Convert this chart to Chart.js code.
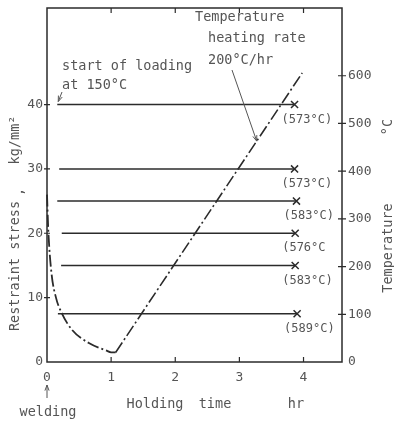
<!DOCTYPE html>
<html>
<head>
<meta charset="utf-8">
<script src="https://cdn.jsdelivr.net/npm/chart.js@4.4.0/dist/chart.umd.min.js"></script>
<style>
  html, body { margin: 0; padding: 0; background: #fff; }
  #chart { display: block; }
</style>
</head>
<body>
<canvas id="chart" width="394" height="421"></canvas>
<script>
// stress after welding, relaxing while cooling (left axis, kg/mm2)
const coolHours = [0, 0.02, 0.07, 0.14, 0.23, 0.39, 0.66, 0.92, 1.0, 1.07];
const coolStress = [26, 20.5, 13.8, 10, 7.6, 5, 2.9, 1.8, 1.5, 1.5];

// reheating at 200 C/hr (right axis, C)
const heatHours = [1.07, 3.98];
const heatTemps = [20, 606];

// constant load tests, broken at the given temperature
const loadStress = [40, 30, 25, 20, 15, 7.5];
const loadStart = [0.16, 0.19, 0.16, 0.23, 0.22, 0.17];
const loadEnd = [3.86, 3.86, 3.89, 3.87, 3.87, 3.9];
const breakTemps = ["(573°C)", "(573°C)", "(583°C)", "(576°C", "(583°C)", "(589°C)"];

const hourTicks = [0, 1, 2, 3, 4];
const stressTicks = [0, 10, 20, 30, 40];
const tempTicks = [0, 100, 200, 300, 400, 500, 600];

const MONO = "'DejaVu Sans Mono', monospace";
const ink = "#2b2b2b";
const gray = "#555";

const datasets = [
  {
    label: "stress",
    yAxisID: "y",
    data: coolHours.map((h, i) => ({ x: h, y: coolStress[i] })),
    borderColor: ink,
    borderWidth: 1.8,
    borderDash: [12, 3, 2, 3],
    pointRadius: 0,
    cubicInterpolationMode: "monotone",
    clip: 4,
  },
  {
    label: "temperature",
    yAxisID: "y1",
    data: heatHours.map((h, i) => ({ x: h, y: heatTemps[i] })),
    borderColor: ink,
    borderWidth: 1.6,
    borderDash: [12, 3, 2, 3],
    pointRadius: 0,
  },
];

loadStress.forEach((s, i) => {
  datasets.push({
    label: "load " + s,
    yAxisID: "y",
    data: [
      { x: loadStart[i], y: s },
      { x: loadEnd[i], y: s },
    ],
    borderColor: ink,
    borderWidth: 1.5,
    pointRadius: [0, 5],
    pointStyle: "crossRot",
    pointBorderColor: ink,
    pointBorderWidth: 1.5,
  });
});

function text(ctx, str, x, y, size, align, rot) {
  ctx.save();
  ctx.translate(x, y);
  if (rot) ctx.rotate(rot);
  ctx.font = size + "px " + MONO;
  ctx.fillStyle = gray;
  ctx.textAlign = align || "left";
  ctx.textBaseline = "middle";
  ctx.fillText(str, 0, 0);
  ctx.restore();
}

function arrow(ctx, x1, y1, x2, y2) {
  const ang = Math.atan2(y2 - y1, x2 - x1);
  ctx.save();
  ctx.strokeStyle = gray;
  ctx.lineWidth = 1;
  ctx.beginPath();
  ctx.moveTo(x1, y1);
  ctx.lineTo(x2, y2);
  ctx.moveTo(x2 - 6 * Math.cos(ang - 0.35), y2 - 6 * Math.sin(ang - 0.35));
  ctx.lineTo(x2, y2);
  ctx.lineTo(x2 - 6 * Math.cos(ang + 0.35), y2 - 6 * Math.sin(ang + 0.35));
  ctx.stroke();
  ctx.restore();
}

const decor = {
  id: "decor",
  afterDraw(chart) {
    const ctx = chart.ctx;
    const a = chart.chartArea;
    const sx = chart.scales.x;
    const sy = chart.scales.y;
    const st = chart.scales.y1;

    // frame and tick marks
    ctx.save();
    ctx.strokeStyle = ink;
    ctx.lineWidth = 1.5;
    ctx.strokeRect(a.left, a.top, a.right - a.left, a.bottom - a.top);
    ctx.lineWidth = 1.2;
    ctx.beginPath();
    hourTicks.slice(1).forEach((v) => {
      const px = sx.getPixelForValue(v);
      ctx.moveTo(px, a.bottom);
      ctx.lineTo(px, a.bottom - 5);
      ctx.moveTo(px, a.top);
      ctx.lineTo(px, a.top + 5);
    });
    stressTicks.slice(1).forEach((v) => {
      const py = sy.getPixelForValue(v);
      ctx.moveTo(a.left - 3, py);
      ctx.lineTo(a.left + 3, py);
    });
    tempTicks.slice(1).forEach((v) => {
      const py = st.getPixelForValue(v);
      ctx.moveTo(a.right - 4, py);
      ctx.lineTo(a.right + 4, py);
    });
    ctx.stroke();
    ctx.restore();

    // break temperature labels under each cross
    loadStress.forEach((s, i) => {
      const px = sx.getPixelForValue(loadEnd[i]);
      const py = sy.getPixelForValue(s);
      text(ctx, breakTemps[i], px - 13, py + 15, 12);
    });

    // axis titles
    text(ctx, "Restraint stress", 15, 266, 13.5, "center", -Math.PI / 2);
    text(ctx, ",", 19, 192, 13.5, "center", -Math.PI / 2);
    text(ctx, "kg/mm²", 15, 140, 13.5, "center", -Math.PI / 2);
    text(ctx, "Temperature", 388, 248, 13.5, "center", -Math.PI / 2);
    text(ctx, "°C", 388, 127, 13.5, "center", -Math.PI / 2);
    text(ctx, "Holding", 155, 404, 13.5, "center");
    text(ctx, "time", 215, 404, 13.5, "center");
    text(ctx, "hr", 296, 404, 13.5, "center");
    text(ctx, "welding", 48, 412, 13.5, "center");
    arrow(ctx, sx.getPixelForValue(0), 398, sx.getPixelForValue(0), 385);

    // annotations
    text(ctx, "start of loading", 62, 66, 13.5);
    text(ctx, "at 150°C", 62, 85, 13.5);
    arrow(ctx, 62, 92, sx.getPixelForValue(loadStart[0]) + 1, sy.getPixelForValue(loadStress[0]) - 3);

    text(ctx, "Temperature", 195, 17, 13.5);
    text(ctx, "heating rate", 208, 38, 13.5);
    text(ctx, "200°C/hr", 208, 60, 13.5);
    const hx = 3.27;
    const ht = heatTemps[0] + (hx - heatHours[0]) * (heatTemps[1] - heatTemps[0]) / (heatHours[1] - heatHours[0]);
    arrow(ctx, 232, 70, sx.getPixelForValue(hx), st.getPixelForValue(ht));
  },
};

function noPadV(s) {
  s.paddingTop = 0;
  s.paddingBottom = 0;
}

new Chart(document.getElementById("chart"), {
  type: "line",
  data: { datasets },
  options: {
    responsive: false,
    animation: false,
    devicePixelRatio: 1,
    layout: { padding: { top: 8, left: 0, right: 0, bottom: 0 } },
    plugins: { legend: { display: false }, tooltip: { enabled: false } },
    scales: {
      x: {
        type: "linear",
        min: 0,
        max: 4.6,
        afterBuildTicks: (s) => { s.ticks = hourTicks.map((v) => ({ value: v })); },
        afterFit: (s) => { s.height = 59; s.paddingLeft = 0; s.paddingRight = 0; },
        grid: { display: false, drawTicks: false },
        border: { display: false },
        ticks: { color: gray, font: { family: MONO, size: 13 }, padding: 8 },
      },
      y: {
        position: "left",
        min: 0,
        max: 55,
        afterBuildTicks: (s) => { s.ticks = stressTicks.map((v) => ({ value: v })); },
        afterFit: (s) => { s.width = 47; noPadV(s); },
        grid: { display: false, drawTicks: false },
        border: { display: false },
        ticks: { color: gray, font: { family: MONO, size: 13 }, padding: 4 },
      },
      y1: {
        position: "right",
        min: 0,
        max: 742,
        afterBuildTicks: (s) => { s.ticks = tempTicks.map((v) => ({ value: v })); },
        afterFit: (s) => { s.width = 52; noPadV(s); },
        grid: { display: false, drawTicks: false },
        border: { display: false },
        ticks: { color: gray, font: { family: MONO, size: 13 }, padding: 6 },
      },
    },
  },
  plugins: [decor],
});
</script>
</body>
</html>
